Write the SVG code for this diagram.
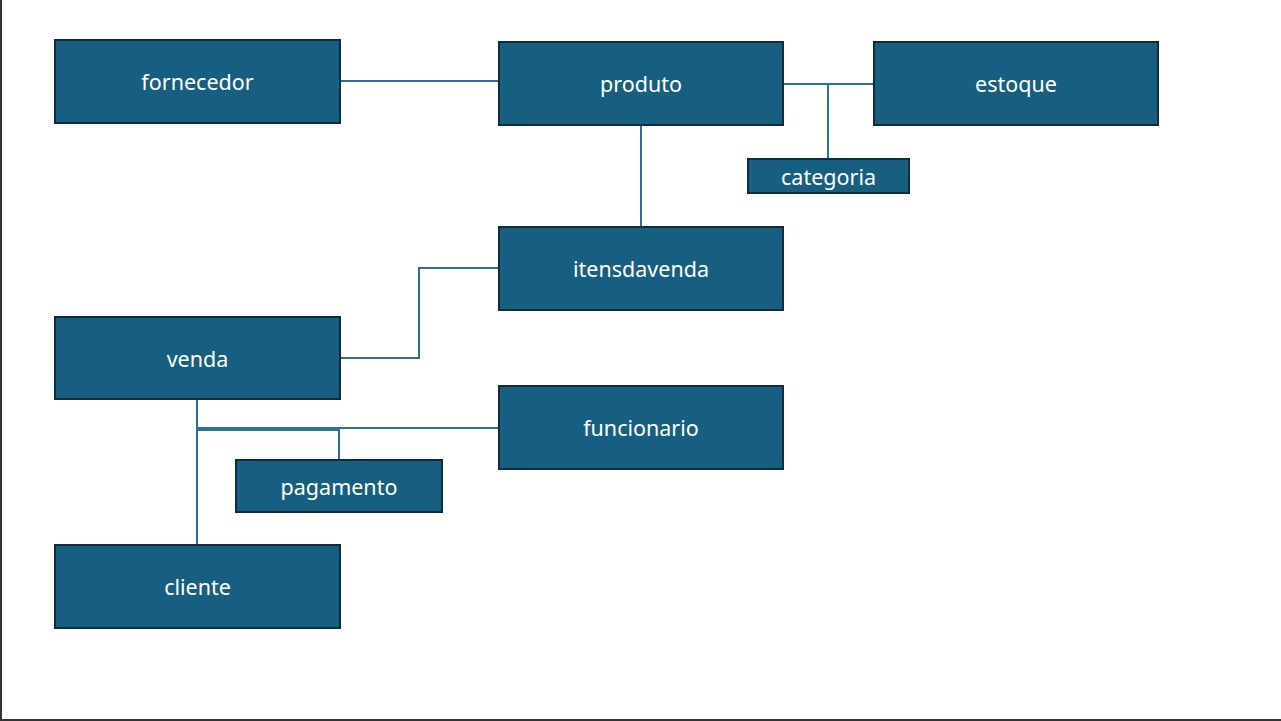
<svg xmlns="http://www.w3.org/2000/svg" width="1281" height="721" viewBox="0 0 1281 721">
<style>
.n{fill:#175F80;stroke:#0F2D3F;stroke-width:2}
.t{fill:#FFFFFF;font-family:"Noto Sans","Open Sans",sans-serif;font-size:21.5px;text-anchor:middle;dominant-baseline:central}
.c{fill:none;stroke:#2C7199;stroke-width:2}
</style>
<rect x="0" y="0" width="1281" height="721" fill="#FFFFFF"/>
<line x1="1" y1="0" x2="1" y2="721" stroke="#333333" stroke-width="2"/>
<line x1="0" y1="720" x2="1281" y2="720" stroke="#333333" stroke-width="2"/>
<g id="connectors">
<line class="c" x1="340" y1="81" x2="499" y2="81"/>
<line class="c" x1="783" y1="84" x2="874" y2="84"/>
<line class="c" x1="828" y1="84" x2="828" y2="159"/>
<line class="c" x1="641" y1="125" x2="641" y2="227"/>
<polyline class="c" points="340,358 419,358 419,268 499,268"/>
<line class="c" x1="197" y1="399" x2="197" y2="545"/>
<line class="c" x1="197" y1="428" x2="499" y2="428"/>
<polyline class="c" points="197,430 339,430 339,460"/>
</g>
<g id="fornecedor"><rect class="n" x="55" y="40" width="285" height="83"/><text class="t" x="197.5" y="81">fornecedor</text></g>
<g id="produto"><rect class="n" x="499" y="42" width="284" height="83"/><text class="t" x="641" y="83">produto</text></g>
<g id="estoque"><rect class="n" x="874" y="42" width="284" height="83"/><text class="t" x="1016" y="83">estoque</text></g>
<g id="categoria"><rect class="n" x="748" y="159" width="161" height="34"/><text class="t" x="828.5" y="176">categoria</text></g>
<g id="itensdavenda"><rect class="n" x="499" y="227" width="284" height="83"/><text class="t" x="641" y="268">itensdavenda</text></g>
<g id="venda"><rect class="n" x="55" y="317" width="285" height="82"/><text class="t" x="197.5" y="358">venda</text></g>
<g id="funcionario"><rect class="n" x="499" y="386" width="284" height="83"/><text class="t" x="641" y="427">funcionario</text></g>
<g id="pagamento"><rect class="n" x="236" y="460" width="206" height="52"/><text class="t" x="339" y="486">pagamento</text></g>
<g id="cliente"><rect class="n" x="55" y="545" width="285" height="83"/><text class="t" x="197.5" y="586">cliente</text></g>
</svg>
